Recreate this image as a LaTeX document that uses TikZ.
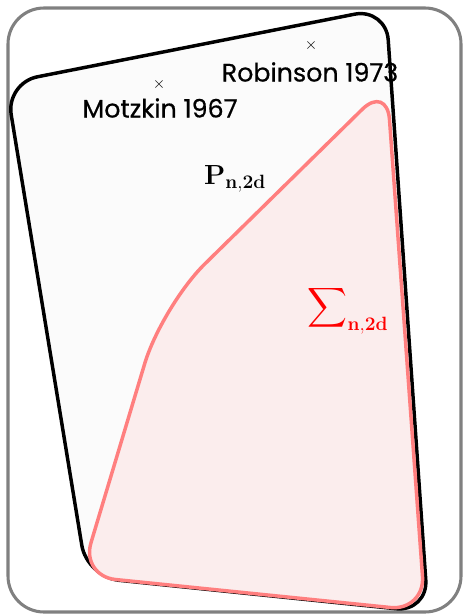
\documentclass[tikz,border=0pt]{standalone}
\usepackage[no-math]{fontspec}
\newfontfamily\lblfont{Poppins}[FakeBold=0.5]
\usepackage{amsmath}
\definecolor{framegray}{HTML}{808080}
\definecolor{polyfill}{HTML}{FBFBFB}
\definecolor{sosfill}{HTML}{FBEDED}
\definecolor{sosline}{HTML}{FF7F7F}
\tikzset{
  framebox/.style={draw=framegray, line width=2.3pt, rounded corners=27pt},
  poscone/.style={draw=black, line width=2.6pt, fill=polyfill, line join=round},
  soscone/.style={draw=sosline, line width=2.6pt, fill=sosfill, line join=round},
  namelabel/.style={font=\lblfont\fontsize{19}{22}\selectfont, inner sep=0pt},
  crossmark/.style={font=\fontsize{13}{15}\selectfont, inner sep=0pt},
  setlabel/.style={font=\fontsize{20.5}{24}\selectfont, inner sep=0pt}
}
\begin{document}
\begin{tikzpicture}[x=0.75pt,y=-0.75pt]
\useasboundingbox (0,0) rectangle (464,615);
\draw[framebox] (8,8) rectangle (461,612);
% P_{n,2d}
\draw[poscone] (196,45.5) [rounded corners=24pt] -- (386,8) -- (428,612) -- (87,577) -- (6,83) -- cycle;
% Sigma_{n,2d}
\draw[soscone] (253,593.5) [rounded corners=26pt] -- (425,611) -- (387,85) [rounded corners=45pt] -- (162,306) [rounded corners=26pt] -- (81,576) -- cycle;
\node[crossmark] (mx) at (159,84) {$\times$};
\node[crossmark] (rx) at (311,45) {$\times$};
\node[namelabel] (motz) at (160,108) {Motzkin 1967};
\node[namelabel] (rob) at (310,72) {Robinson 1973};
\node[setlabel] (P) at (235,179) {$\mathbf{P}_{\mathbf{n,2d}}$};
\node[setlabel, text=red] (S) at (348,310) {$\displaystyle\sum\nolimits_{\mathbf{n,2d}}$};
\end{tikzpicture}
\end{document}
